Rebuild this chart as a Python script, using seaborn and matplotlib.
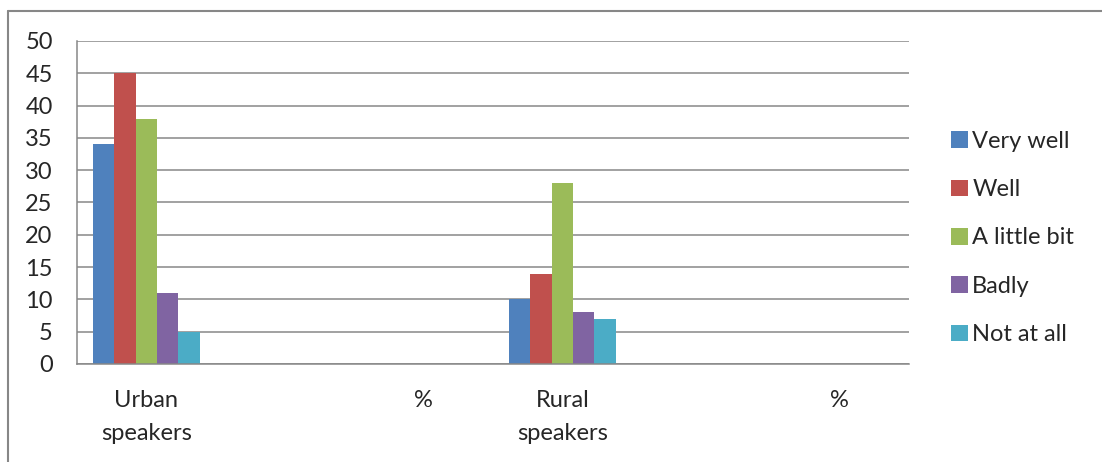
import matplotlib
matplotlib.use("Agg")
import matplotlib.pyplot as plt
from matplotlib.lines import Line2D
from matplotlib.patches import Patch
import numpy as np
import pandas as pd
import seaborn as sns

# Survey data: how well speakers rate themselves, per speaker group
categories = ["Urban speakers", "urban blank", "urban %", "Rural speakers", "rural blank", "rural %"]
category_labels = ["Urban\nspeakers", "", "%", "Rural\nspeakers", "", "%"]
levels = ["Very well", "Well", "A little bit", "Badly", "Not at all"]
urban_values = [34, 45, 38, 11, 5]
rural_values = [10, 14, 28, 8, 7]
colors = ["#4F81BD", "#C0504D", "#9BBB59", "#8064A2", "#4BACC6"]
y_ticks = list(range(0, 55, 5))

rows = []
for lvl, v in zip(levels, urban_values):
    rows.append({"group": "Urban speakers", "level": lvl, "value": v})
for lvl, v in zip(levels, rural_values):
    rows.append({"group": "Rural speakers", "level": lvl, "value": v})
df = pd.DataFrame(rows)

sns.set_style("white")
plt.rcParams["font.family"] = ["Lato", "DejaVu Sans"]
FS = 17
GRID = "#878787"

fig = plt.figure(figsize=(11.02, 4.62), dpi=100)
ax = fig.add_axes([77 / 1102, 1 - 364 / 462, (909 - 77) / 1102, (364 - 41) / 462])

sns.barplot(data=df, x="group", y="value", hue="level", order=categories,
            hue_order=levels, palette=colors, width=0.77, saturation=1,
            errorbar=None, linewidth=0, ax=ax, legend=False)

ax.set_xlim(-0.5, len(categories) - 0.5)
ax.set_ylim(0, 50)
ax.set_yticks(y_ticks)
ax.set_yticklabels([str(t) for t in y_ticks], fontsize=FS)
ax.set_xlabel("")
ax.set_ylabel("")

# tick marks between categories, labels centred on categories
ax.set_xticks(np.arange(-0.5, len(categories), 1.0))
ax.set_xticklabels([])
ax.set_xticks(np.arange(len(categories)), minor=True)
ax.set_xticklabels(category_labels, minor=True, fontsize=FS, linespacing=1.7)
ax.tick_params(axis="x", which="major", length=7.5, width=1.1, color=GRID, direction="out")
ax.tick_params(axis="x", which="minor", length=0, pad=19)
ax.tick_params(axis="y", length=5.5, width=1.1, color=GRID, pad=12, direction="out")

ax.yaxis.grid(True, color=GRID, linewidth=1.1)
ax.set_axisbelow(True)
for side in ("top", "right"):
    ax.spines[side].set_visible(False)
for side in ("left", "bottom"):
    ax.spines[side].set_color(GRID)
    ax.spines[side].set_linewidth(1.1)

handles = [Patch(facecolor=c, edgecolor="none") for c in colors]
fig.legend(handles, levels, loc="center left",
           bbox_to_anchor=(951 / 1102, 1 - 238 / 462), frameon=False,
           fontsize=FS, handlelength=0.7, handleheight=0.7,
           handletextpad=0.2, labelspacing=1.16, borderpad=0, borderaxespad=0)

# chart frame
fig.add_artist(Line2D([8 / 1102, 1], [1 - 11 / 462] * 2, transform=fig.transFigure,
                      color=GRID, linewidth=1.5))
fig.add_artist(Line2D([8 / 1102] * 2, [0, 1 - 11 / 462], transform=fig.transFigure,
                      color=GRID, linewidth=1.5))

fig.savefig("out.png", dpi=100, facecolor="white")
